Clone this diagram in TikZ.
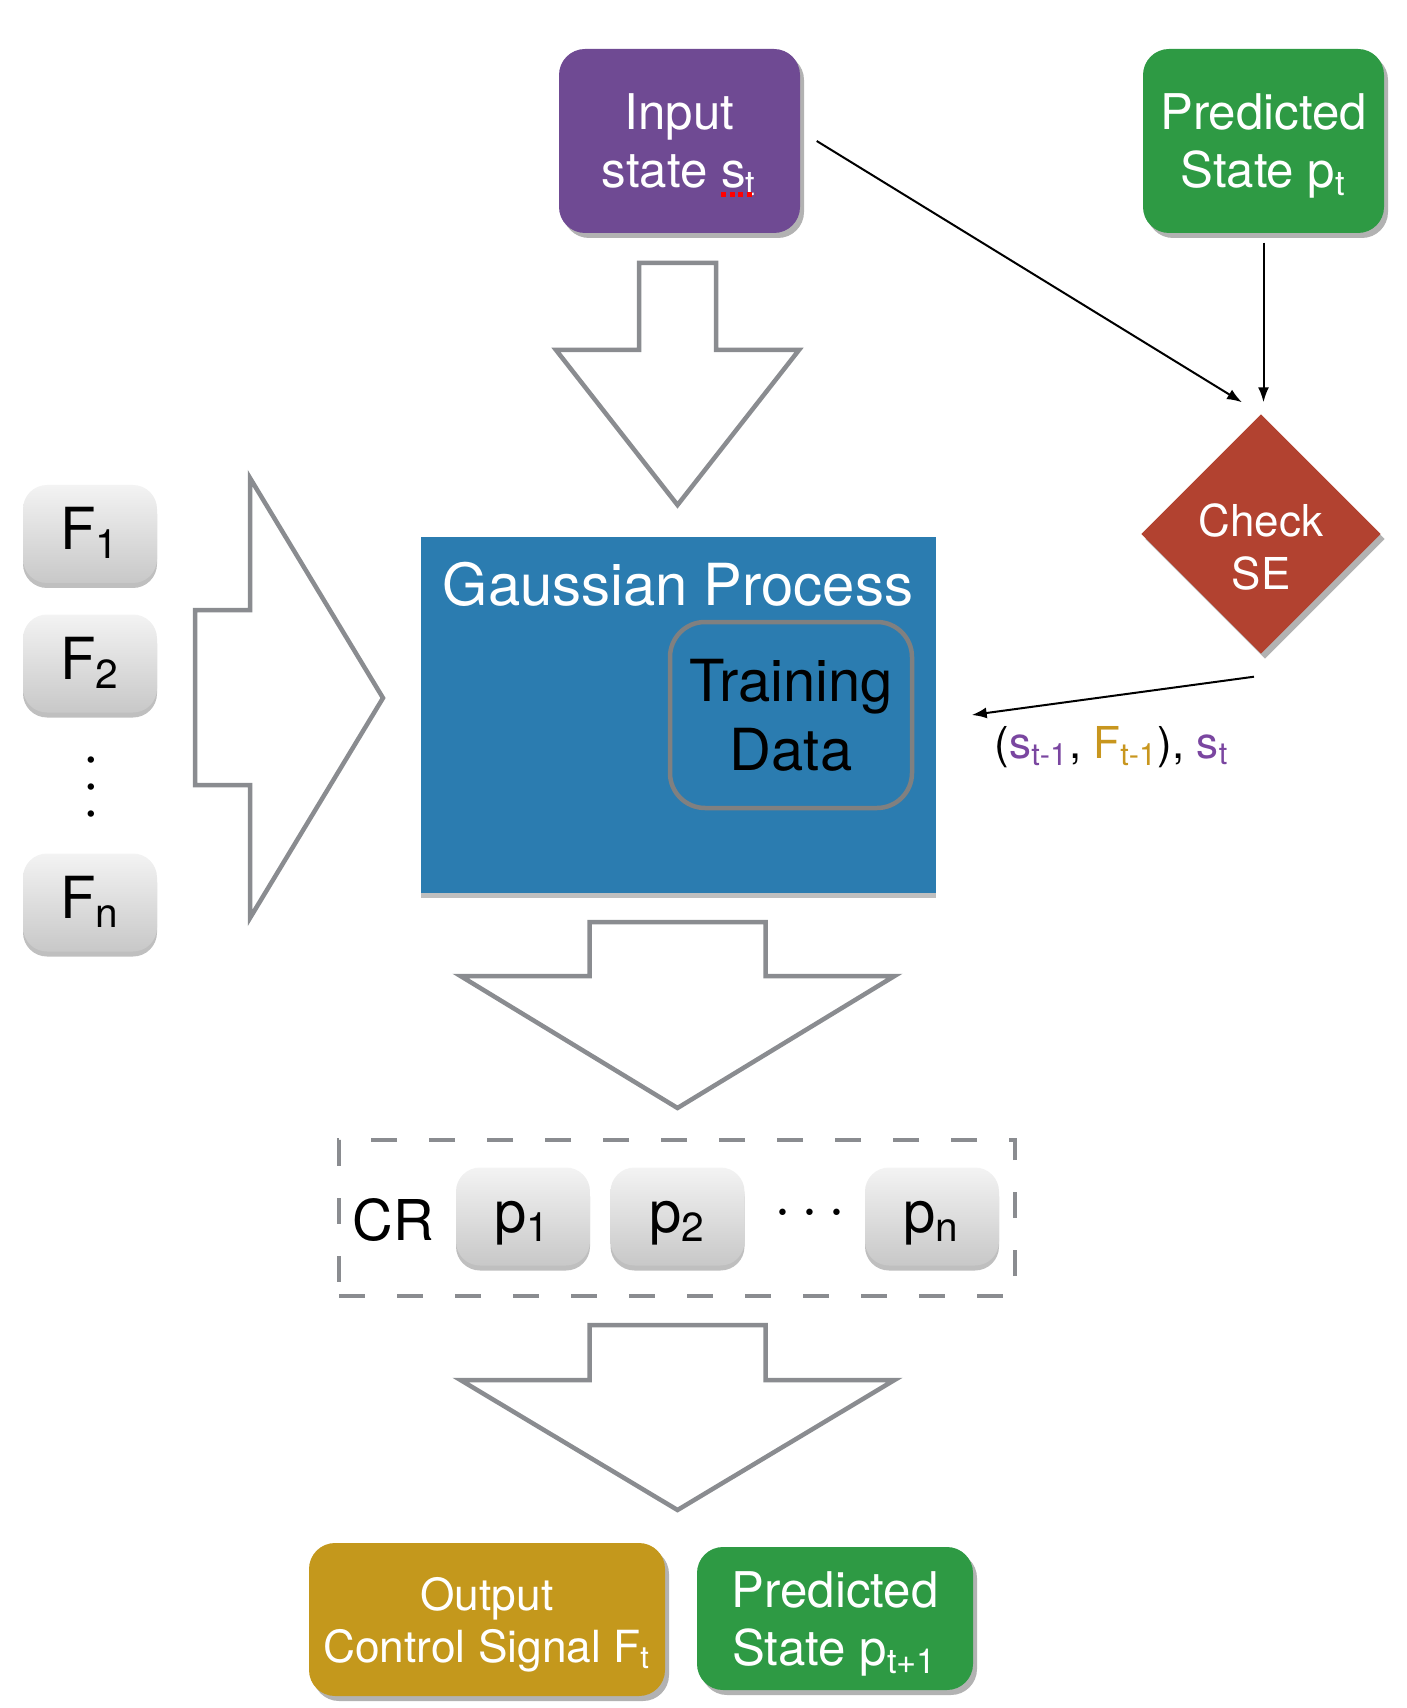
\documentclass[tikz,border=0pt]{standalone}
\usepackage{fontspec}
\setmainfont{TeX Gyre Heros}
\usetikzlibrary{arrows.meta,positioning,shapes.geometric,shadows}

\definecolor{inpurple}{HTML}{6F4A93}
\definecolor{predgreen}{HTML}{2E9A44}
\definecolor{checkred}{HTML}{B24230}
\definecolor{gpblue}{HTML}{2B7CB0}
\definecolor{outgold}{HTML}{C4981C}
\definecolor{arrowgray}{HTML}{8A8C90}
\definecolor{traingray}{HTML}{808080}
\definecolor{keytop}{HTML}{F3F3F3}
\definecolor{keybot}{HTML}{C8C8C8}
\definecolor{lblpurple}{HTML}{7A46A0}
\definecolor{lblgold}{HTML}{C8961E}

\tikzset{
  colorbox/.style={rounded corners=2.6mm,text=white,align=center,inner sep=0pt,text depth=0pt,
    drop shadow={shadow xshift=0.4mm,shadow yshift=-0.5mm,opacity=0.3,fill=black}},
  keybox/.style={rounded corners=2.4mm,minimum width=13.4mm,minimum height=9.8mm,
    top color=keytop,bottom color=keybot,inner sep=0pt,text height=0.9em,text depth=0pt,
    drop shadow={shadow xshift=0mm,shadow yshift=-0.5mm,opacity=0.25,fill=black},
    font=\fontsize{16.5}{19}\selectfont},
  bigarrow/.style={draw=arrowgray,line width=0.45mm,fill=white},
  link/.style={->,line width=0.2mm}
}

\begin{document}
\begin{tikzpicture}[x=0.1mm,y=-0.1mm,>={Latex[length=1.5mm,width=1.1mm]}]
  \useasboundingbox (0,0) rectangle (1406,1708);

  % input and predicted state
  \node[colorbox,fill=inpurple,minimum width=24.1mm,minimum height=18.4mm,
    font=\fontsize{14}{16.5}\selectfont] (inp) at (679.5,141) {Input\\state s\textsubscript{t}};
  \draw[red,line width=0.5mm,dash pattern=on 0.5mm off 0.35mm] (721,195) -- (755,195);
  \node[colorbox,fill=predgreen,minimum width=24.1mm,minimum height=18.4mm,
    font=\fontsize{14}{16.5}\selectfont] (predtop) at (1263.5,141) {Predicted\\State p\textsubscript{t}};

  % check
  \node[shape=diamond,aspect=1,fill=checkred,minimum width=24mm,minimum height=24mm,inner sep=0pt,
    drop shadow={shadow xshift=0.4mm,shadow yshift=-0.5mm,opacity=0.3,fill=black},
    label={[text=white,align=center,font=\fontsize{12.5}{15}\selectfont,yshift=-1.3mm]center:Check\\SE}]
    (check) at (1261,534) {};

  % big hollow arrows
  \foreach \top/\neck/\tip/\sw/\hw in {263/350/505/38.5/121.5,922/976/1108/88/217,1325/1380/1510/88/217}
    \draw[bigarrow] (677.5-\sw,\top) -- (677.5+\sw,\top) -- (677.5+\sw,\neck) -- (677.5+\hw,\neck)
      -- (677.5,\tip) -- (677.5-\hw,\neck) -- (677.5-\sw,\neck) -- cycle;
  \draw[bigarrow] (195,610) -- (250,610) -- (250,478) -- (383,698) -- (250,918) -- (250,785) -- (195,785) -- cycle;

  % gaussian process
  \node[fill=gpblue,minimum width=51.5mm,minimum height=35.6mm,inner sep=0pt,
    drop shadow={shadow xshift=0mm,shadow yshift=-0.5mm,opacity=0.25,fill=black}] (gp) at (678.5,715) {};
  \node[anchor=base,text=white,font=\fontsize{16.5}{19}\selectfont] (gptitle) at (678,605) {Gaussian Process};
  \node[draw=traingray,line width=0.45mm,rounded corners=3.5mm,minimum width=24.2mm,minimum height=18.6mm,
    align=center,inner sep=0pt,font=\fontsize{16.5}{19.6}\selectfont] (train) at (791,715) {Training\\Data};

  % control signals
  \foreach \y/\lab in {534/1,663.5/2,902.5/n}
    \node[keybox] (F\lab) at (90,\y) {F\textsubscript{\lab}};
  \node[rotate=90,font=\fontsize{16}{16}\selectfont] (Fdots) at (93,787) {$\cdots$};

  % candidate region
  \node[draw=arrowgray,line width=0.45mm,dash pattern=on 2.6mm off 3.2mm,minimum width=67.6mm,
    minimum height=15.6mm,inner sep=0pt] (crbox) at (677,1218) {};
  \node[anchor=base,font=\fontsize{16}{18}\selectfont] (cr) at (393,1240) {CR};
  \foreach \x/\lab in {523/1,677.5/2,932/n}
    \node[keybox] (p\lab) at (\x,1216.5) {p\textsubscript{\lab}};
  \node[font=\fontsize{17}{17}\selectfont] (pdots) at (810,1214) {$\cdots$};

  % outputs
  \node[colorbox,fill=outgold,minimum width=35.6mm,minimum height=15.3mm,
    font=\fontsize{12.6}{14.8}\selectfont] (outsig) at (487,1619.5) {Output\\Control Signal F\textsubscript{t}};
  \node[colorbox,fill=predgreen,minimum width=27.6mm,minimum height=14.3mm,
    font=\fontsize{14}{16.5}\selectfont] (predbot) at (835,1618.5) {Predicted\\State p\textsubscript{t+1}};

  % connectors
  \draw[link] ([xshift=1.6mm]inp.east) -- ([xshift=-1.9mm,yshift=1.1mm]check.north);
  \draw[link] ([yshift=-0.9mm]predtop.south) -- ([yshift=1.1mm]predtop.south |- check.north);
  \draw[link] ([xshift=-0.7mm,yshift=-2.2mm]check.south) -- ([xshift=3.5mm]gp.east);
  \node[anchor=base,font=\fontsize{12.5}{15}\selectfont] (lbl) at (1112,758)
    {(\textcolor{lblpurple}{s\textsubscript{t-1}}, \textcolor{lblgold}{F\textsubscript{t-1}}), \textcolor{lblpurple}{s\textsubscript{t}}};
\end{tikzpicture}
\end{document}
